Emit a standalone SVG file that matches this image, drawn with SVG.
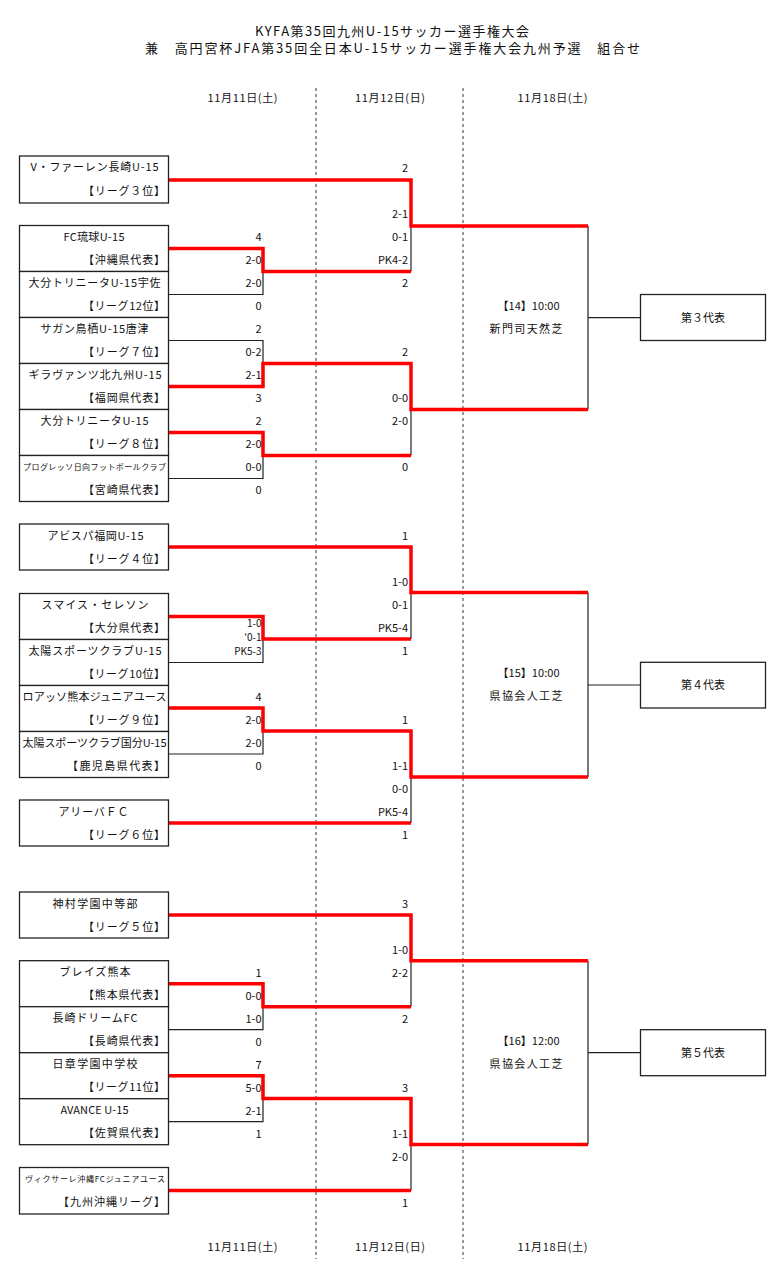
<svg xmlns="http://www.w3.org/2000/svg" width="784" height="1267" viewBox="0 0 784 1267">
<style>
text { font-family: "Noto Sans CJK JP", "Noto Sans", sans-serif; font-size: 11px; fill: #111; }
.ttl { font-size: 13px; text-anchor: middle; }
.dt { text-anchor: middle; }
.nm { text-anchor: middle; }
.sm { font-size: 8px; }
.rk { text-anchor: end; }
.sc { text-anchor: end; }
.sc2 { text-anchor: end; font-size: 10px; }
.ctr { text-anchor: middle; }
.box { fill: #fff; stroke: #222; stroke-width: 1.3; }
.win { fill: none; stroke: #ff0000; stroke-width: 3.5; stroke-linejoin: miter; }
.lose { fill: none; stroke: #222; stroke-width: 1.2; }
.dash { stroke: #555; stroke-width: 1.2; stroke-dasharray: 3 3; }
</style>

<g id="title">
<text class="ttl" x="392" y="35.5" textLength="274">KYFA第35回九州U-15サッカー選手権大会</text>
<text class="ttl" x="392.5" y="53" textLength="495">兼　高円宮杯JFA第35回全日本U-15サッカー選手権大会九州予選　組合せ</text>
</g>

<g id="dates">
<text class="dt" x="242.5" y="102" textLength="70">11月11日(土)</text>
<text class="dt" x="390" y="102" textLength="70">11月12日(日)</text>
<text class="dt" x="552.5" y="102" textLength="70">11月18日(土)</text>
<text class="dt" x="242.5" y="1250.5" textLength="70">11月11日(土)</text>
<text class="dt" x="390" y="1250.5" textLength="70">11月12日(日)</text>
<text class="dt" x="552.5" y="1250.5" textLength="70">11月18日(土)</text>
</g>

<g id="day-dividers">
<line class="dash" x1="316" y1="88" x2="316" y2="1259"/>
<line class="dash" x1="463" y1="88" x2="463" y2="1259"/>
</g>

<g id="connectors">
<!-- group 1 losers -->
<path class="lose" d="M169 294.5 H263 V271.5"/>
<path class="lose" d="M411 226 V271.5"/>
<path class="lose" d="M169 340.5 H263 V363.5"/>
<path class="lose" d="M169 478.5 H263 V455.5"/>
<path class="lose" d="M411 409.5 V455.5"/>
<path class="lose" d="M588 226 V409.5 M588 317.7 H640"/>
<!-- group 2 losers -->
<path class="lose" d="M169 662.5 H263 V639"/>
<path class="lose" d="M411 592.5 V639"/>
<path class="lose" d="M169 754 H263 V731"/>
<path class="lose" d="M411 777 V823"/>
<path class="lose" d="M588 592.5 V777 M588 685 H640"/>
<!-- group 3 losers -->
<path class="lose" d="M169 1029.7 H263 V1006.7"/>
<path class="lose" d="M411 960.8 V1006.7"/>
<path class="lose" d="M169 1121.7 H263 V1098.5"/>
<path class="lose" d="M411 1144.5 V1190.5"/>
<path class="lose" d="M588 960.8 V1144.5 M588 1052.7 H640"/>
<!-- winners group 1 -->
<path class="win" d="M169 180 H411 V226 H588"/>
<path class="win" d="M169 248.5 H263 V271.5 H411"/>
<path class="win" d="M169 386.5 H263 V363.5 H411 V409.5 H588"/>
<path class="win" d="M169 432.5 H263 V455.5 H411"/>
<!-- winners group 2 -->
<path class="win" d="M169 547 H411 V592.5 H588"/>
<path class="win" d="M169 616.5 H263 V639 H411"/>
<path class="win" d="M169 708 H263 V731 H411 V777 H588"/>
<path class="win" d="M169 823 H411"/>
<!-- winners group 3 -->
<path class="win" d="M169 915 H411 V960.8 H588"/>
<path class="win" d="M169 983.7 H263 V1006.7 H411"/>
<path class="win" d="M169 1075.7 H263 V1098.5 H411 V1144.5 H588"/>
<path class="win" d="M169 1190.5 H411"/>
</g>

<!-- ===== group 1 teams ===== -->
<g id="team-vvaren">
<rect class="box" x="19.5" y="156" width="149" height="47"/>
<text class="nm" x="94.5" y="171.3" textLength="128">V・ファーレン長崎U-15</text>
<text class="rk" x="165" y="194.7" textLength="82">【リーグ３位】</text>
</g>
<g id="team-fcryukyu">
<rect class="box" x="19.5" y="225.5" width="149" height="46"/>
<text class="nm" x="94" y="241" textLength="61">FC琉球U-15</text>
<text class="rk" x="165" y="264" textLength="82">【沖縄県代表】</text>
</g>
<g id="team-oita-usa">
<rect class="box" x="19.5" y="271.5" width="149" height="46"/>
<text class="nm" x="94.5" y="287" textLength="132">大分トリニータU-15宇佐</text>
<text class="rk" x="165" y="310" textLength="82">【リーグ12位】</text>
</g>
<g id="team-sagan-karatsu">
<rect class="box" x="19.5" y="317.5" width="149" height="46"/>
<text class="nm" x="94.5" y="333" textLength="108">サガン鳥栖U-15唐津</text>
<text class="rk" x="165" y="356" textLength="82">【リーグ７位】</text>
</g>
<g id="team-giravanz">
<rect class="box" x="19.5" y="363.5" width="149" height="46"/>
<text class="nm" x="95" y="379" textLength="133">ギラヴァンツ北九州U-15</text>
<text class="rk" x="165" y="402" textLength="82">【福岡県代表】</text>
</g>
<g id="team-oita">
<rect class="box" x="19.5" y="409.5" width="149" height="46"/>
<text class="nm" x="94.5" y="425" textLength="108">大分トリニータU-15</text>
<text class="rk" x="165" y="448" textLength="82">【リーグ８位】</text>
</g>
<g id="team-progresso">
<rect class="box" x="19.5" y="455.5" width="149" height="46"/>
<text class="nm sm" x="94.5" y="469.5" textLength="143">プログレッソ日向フットボールクラブ</text>
<text class="rk" x="165" y="494" textLength="82">【宮崎県代表】</text>
</g>

<!-- ===== group 2 teams ===== -->
<g id="team-avispa">
<rect class="box" x="19.5" y="524" width="149" height="46"/>
<text class="nm" x="95.5" y="539.5" textLength="96">アビスパ福岡U-15</text>
<text class="rk" x="165" y="562.5" textLength="82">【リーグ４位】</text>
</g>
<g id="team-smice">
<rect class="box" x="19.5" y="593.5" width="149" height="46"/>
<text class="nm" x="95" y="609" textLength="107">スマイス・セレソン</text>
<text class="rk" x="165" y="632" textLength="82">【大分県代表】</text>
</g>
<g id="team-taiyo">
<rect class="box" x="19.5" y="639.5" width="149" height="46"/>
<text class="nm" x="95" y="655" textLength="133">太陽スポーツクラブU-15</text>
<text class="rk" x="165" y="678" textLength="82">【リーグ10位】</text>
</g>
<g id="team-roasso">
<rect class="box" x="19.5" y="685.5" width="149" height="46"/>
<text class="nm" x="94.5" y="701" textLength="144">ロアッソ熊本ジュニアユース</text>
<text class="rk" x="165" y="724" textLength="82">【リーグ９位】</text>
</g>
<g id="team-taiyo-kokubu">
<rect class="box" x="19.5" y="731.5" width="149" height="46"/>
<text class="nm" x="94.5" y="747" textLength="144">太陽スポーツクラブ国分U-15</text>
<text class="rk" x="165" y="770" textLength="98">【鹿児島県代表】</text>
</g>
<g id="team-arriba">
<rect class="box" x="19.5" y="800" width="149" height="46"/>
<text class="nm" x="93.5" y="815.5" textLength="70">アリーバＦＣ</text>
<text class="rk" x="165" y="838.5" textLength="82">【リーグ６位】</text>
</g>

<!-- ===== group 3 teams ===== -->
<g id="team-kamimura">
<rect class="box" x="19.5" y="892" width="149" height="46"/>
<text class="nm" x="95" y="907.5" textLength="85">神村学園中等部</text>
<text class="rk" x="165" y="930.5" textLength="82">【リーグ５位】</text>
</g>
<g id="team-blaze">
<rect class="box" x="19.5" y="960.7" width="149" height="46"/>
<text class="nm" x="95" y="976.2" textLength="71">ブレイズ熊本</text>
<text class="rk" x="165" y="999.2" textLength="82">【熊本県代表】</text>
</g>
<g id="team-nagasaki-dream">
<rect class="box" x="19.5" y="1006.7" width="149" height="46"/>
<text class="nm" x="95" y="1022.2" textLength="85">長崎ドリームFC</text>
<text class="rk" x="165" y="1045.2" textLength="82">【長崎県代表】</text>
</g>
<g id="team-nissho">
<rect class="box" x="19.5" y="1052.7" width="149" height="46"/>
<text class="nm" x="95" y="1068.2" textLength="85">日章学園中学校</text>
<text class="rk" x="165" y="1091.2" textLength="82">【リーグ11位】</text>
</g>
<g id="team-avance">
<rect class="box" x="19.5" y="1098.7" width="149" height="46"/>
<text class="nm" x="94.5" y="1114.2" textLength="68">AVANCE U-15</text>
<text class="rk" x="165" y="1137.2" textLength="82">【佐賀県代表】</text>
</g>
<g id="team-vitcsale">
<rect class="box" x="19.5" y="1167.5" width="149" height="46.5"/>
<text class="nm sm" x="95" y="1182" textLength="140">ヴィクサーレ沖縄FCジュニアユース</text>
<text class="rk" x="165" y="1206" textLength="107">【九州沖縄リーグ】</text>
</g>

<!-- ===== scores group 1 ===== -->
<g id="scores-g1">
<text class="sc" x="261.5" y="240.5">4</text>
<text class="sc" x="261.5" y="263.5">2-0</text>
<text class="sc" x="261.5" y="286.5">2-0</text>
<text class="sc" x="261.5" y="309.5">0</text>
<text class="sc" x="261.5" y="332.5">2</text>
<text class="sc" x="261.5" y="355.5">0-2</text>
<text class="sc" x="261.5" y="378.5">2-1</text>
<text class="sc" x="261.5" y="401.5">3</text>
<text class="sc" x="261.5" y="424.5">2</text>
<text class="sc" x="261.5" y="447.5">2-0</text>
<text class="sc" x="261.5" y="470.5">0-0</text>
<text class="sc" x="261.5" y="493.5">0</text>
<text class="sc" x="408" y="171.5">2</text>
<text class="sc" x="408" y="217.5">2-1</text>
<text class="sc" x="408" y="240.5">0-1</text>
<text class="sc" x="408" y="263.5">PK4-2</text>
<text class="sc" x="408" y="286.5">2</text>
<text class="sc" x="408" y="355.5">2</text>
<text class="sc" x="408" y="401.5">0-0</text>
<text class="sc" x="408" y="424.5">2-0</text>
<text class="sc" x="408" y="470.5">0</text>
</g>

<!-- ===== scores group 2 ===== -->
<g id="scores-g2">
<text class="sc2" x="261.5" y="627">1-0</text>
<text class="sc2" x="261.5" y="641.2">'0-1</text>
<text class="sc2" x="261.5" y="655.2">PK5-3</text>
<text class="sc" x="261.5" y="700.5">4</text>
<text class="sc" x="261.5" y="723.5">2-0</text>
<text class="sc" x="261.5" y="746.5">2-0</text>
<text class="sc" x="261.5" y="769.5">0</text>
<text class="sc" x="408" y="539.5">1</text>
<text class="sc" x="408" y="585.5">1-0</text>
<text class="sc" x="408" y="608.5">0-1</text>
<text class="sc" x="408" y="631.5">PK5-4</text>
<text class="sc" x="408" y="654.5">1</text>
<text class="sc" x="408" y="723.5">1</text>
<text class="sc" x="408" y="769.5">1-1</text>
<text class="sc" x="408" y="792.5">0-0</text>
<text class="sc" x="408" y="815.5">PK5-4</text>
<text class="sc" x="408" y="838.5">1</text>
</g>

<!-- ===== scores group 3 ===== -->
<g id="scores-g3">
<text class="sc" x="261.5" y="976.5">1</text>
<text class="sc" x="261.5" y="999.5">0-0</text>
<text class="sc" x="261.5" y="1022.5">1-0</text>
<text class="sc" x="261.5" y="1045.5">0</text>
<text class="sc" x="261.5" y="1068.5">7</text>
<text class="sc" x="261.5" y="1091.5">5-0</text>
<text class="sc" x="261.5" y="1114.5">2-1</text>
<text class="sc" x="261.5" y="1137.5">1</text>
<text class="sc" x="408" y="907.5">3</text>
<text class="sc" x="408" y="953.5">1-0</text>
<text class="sc" x="408" y="976.5">2-2</text>
<text class="sc" x="408" y="1022.5">2</text>
<text class="sc" x="408" y="1091.5">3</text>
<text class="sc" x="408" y="1137.5">1-1</text>
<text class="sc" x="408" y="1160.5">2-0</text>
<text class="sc" x="408" y="1206.5">1</text>
</g>

<!-- ===== finals ===== -->
<g id="match-14">
<text class="ctr" x="528.5" y="309.5" textLength="62">【14】10:00</text>
<text class="ctr" x="526" y="332.5" textLength="73">新門司天然芝</text>
</g>
<g id="match-15">
<text class="ctr" x="528.5" y="676.5" textLength="62">【15】10:00</text>
<text class="ctr" x="526" y="699.7" textLength="73">県協会人工芝</text>
</g>
<g id="match-16">
<text class="ctr" x="528.5" y="1044.7" textLength="62">【16】12:00</text>
<text class="ctr" x="526" y="1068" textLength="73">県協会人工芝</text>
</g>

<g id="rep-3">
<rect class="box" x="640.5" y="294.5" width="125" height="46"/>
<text class="ctr" x="703" y="321.5">第３代表</text>
</g>
<g id="rep-4">
<rect class="box" x="640.5" y="662.3" width="125" height="45.7"/>
<text class="ctr" x="703" y="689">第４代表</text>
</g>
<g id="rep-5">
<rect class="box" x="640.5" y="1029.7" width="125" height="46"/>
<text class="ctr" x="703" y="1056.7">第５代表</text>
</g>
</svg>
